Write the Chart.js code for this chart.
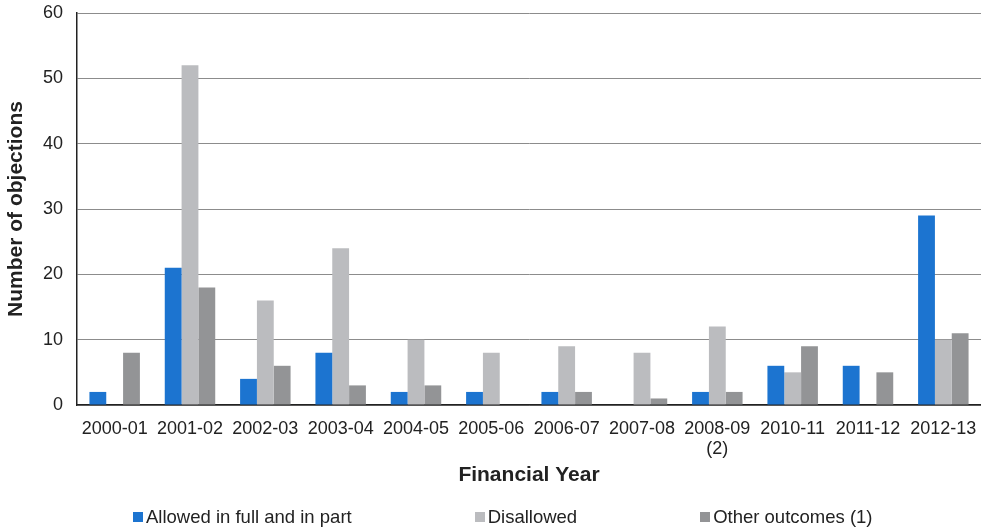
<!DOCTYPE html>
<html>
<head>
<meta charset="utf-8">
<script src="https://cdn.jsdelivr.net/npm/chart.js@4/dist/chart.umd.min.js"></script>
<style>
    html, body { margin: 0; padding: 0; background: #fff; }
    #wrap { position: relative; width: 981px; height: 528px; }
    #legend {
        position: absolute; left: 133px; top: 507px;
        display: flex; gap: 123px;
        font-family: "Liberation Sans", Arial, sans-serif; font-size: 18.5px; color: #222;
        line-height: 20px; white-space: nowrap;
    }
    .leg-item { display: flex; align-items: center; }
    .leg-box { width: 10px; height: 10px; margin-right: 3px; }
</style>
</head>
<body>
<div id="wrap">
    <canvas id="objChart"></canvas>
    <div id="legend"></div>
</div>
<script>
const years = ["2000-01", "2001-02", "2002-03", "2003-04", "2004-05", "2005-06", "2006-07", "2007-08", ["2008-09", "(2)"], "2010-11", "2011-12", "2012-13"];
const allowed = [2, 21, 4, 8, 2, 2, 2, 0, 2, 6, 6, 29];
const disallowed = [0, 52, 16, 24, 10, 8, 9, 8, 12, 5, 0, 10];
const otherOutcomes = [8, 18, 6, 3, 3, 0, 2, 1, 2, 9, 5, 11];

const FONT = "Liberation Sans, Arial, sans-serif";
const ctx = document.getElementById("objChart").getContext("2d");
const chart = new Chart(ctx, {
    type: "bar",
    data: {
        labels: years,
        datasets: [
            { label: "Allowed in full and in part", data: allowed, backgroundColor: "#1c74d0" },
            { label: "Disallowed", data: disallowed, backgroundColor: "#bbbcbf" },
            { label: "Other outcomes (1)", data: otherOutcomes, backgroundColor: "#939496" }
        ]
    },
    options: {
        responsive: true,
        maintainAspectRatio: false,
        animation: false,
        layout: { padding: { top: 13, right: 0, left: 2, bottom: 40 } },
        datasets: { bar: { barPercentage: 1, categoryPercentage: 0.67 } },
        plugins: {
            tooltip: { enabled: false },
            legend: { display: false }
        },
        scales: {
            x: {
                // fixed box so the plot sits where the original does
                afterFit: s => { s.paddingLeft = 0; s.paddingRight = 0; s.height = 83; },
                grid: { display: false, drawTicks: false },
                border: { color: "#222", width: 1.5 },
                ticks: {
                    color: "#222",
                    padding: 14,
                    maxRotation: 0,
                    autoSkip: false,
                    font: { family: FONT, size: 18, lineHeight: 1.12 }
                },
                title: {
                    display: true,
                    text: "Financial Year",
                    color: "#222",
                    padding: { top: 4, bottom: 0 },
                    font: { family: FONT, size: 21, weight: "bold" }
                }
            },
            y: {
                min: 0,
                max: 60,
                afterFit: s => { s.paddingTop = 0; s.paddingBottom = 0; s.width = 75; },
                grid: { color: "#8c8c8c", lineWidth: 1, drawTicks: false },
                border: { color: "#222", width: 1.5 },
                ticks: {
                    stepSize: 10,
                    color: "#222",
                    padding: 14,
                    font: { family: FONT, size: 18, lineHeight: 1.12 }
                },
                title: {
                    display: true,
                    text: "Number of objections",
                    color: "#222",
                    padding: { top: 2, bottom: 0 },
                    font: { family: FONT, size: 21, weight: "bold" }
                }
            }
        }
    }
});

// legend spread across the bottom, as in the original
const legendEl = document.getElementById("legend");
chart.data.datasets.forEach(ds => {
    const item = document.createElement("div");
    item.className = "leg-item";
    const box = document.createElement("span");
    box.className = "leg-box";
    box.style.background = ds.backgroundColor;
    const txt = document.createElement("span");
    txt.textContent = ds.label;
    item.appendChild(box);
    item.appendChild(txt);
    legendEl.appendChild(item);
});
</script>
</body>
</html>
